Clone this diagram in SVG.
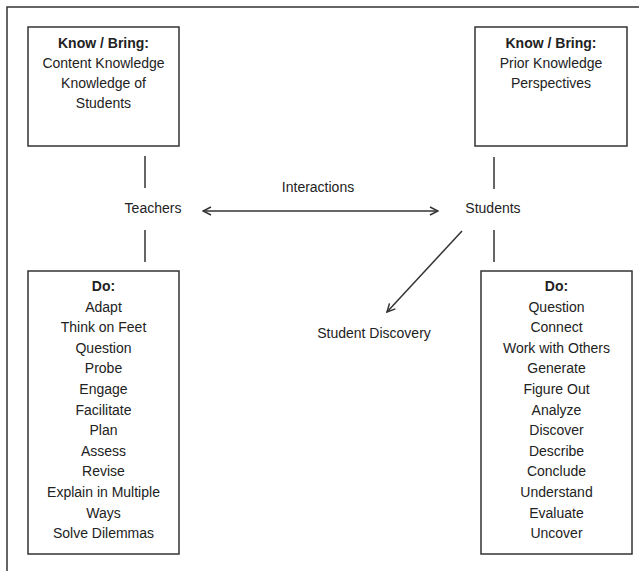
<svg xmlns="http://www.w3.org/2000/svg" width="639" height="571" viewBox="0 0 639 571">
<defs>
<style>
.box{fill:#fff;stroke:#333;stroke-width:1.5}
.ln{fill:none;stroke:#333;stroke-width:1.5}
text{font-family:"Liberation Sans",Arial,sans-serif;font-size:14px;fill:#222;text-anchor:middle}
.b{font-weight:bold}
</style>
<marker id="ah" viewBox="0 0 10 10" refX="9" refY="5" markerWidth="10" markerHeight="10" markerUnits="userSpaceOnUse" orient="auto-start-reverse">
<path d="M1,1 L9,5 L1,9" fill="none" stroke="#333" stroke-width="1.5"/>
</marker>
</defs>
<rect width="639" height="571" fill="#fff"/>
<path class="ln" d="M7,571 V7 H639"/>
<g id="teacher-know">
<rect class="box" x="28" y="27" width="151" height="119"/>
<text x="103.5" y="48" class="b">Know / Bring:</text>
<text x="103.5" y="68">Content Knowledge</text>
<text x="103.5" y="88">Knowledge of</text>
<text x="103.5" y="108">Students</text>
</g>
<g id="student-know">
<rect class="box" x="475" y="27" width="152" height="119"/>
<text x="551" y="48" class="b">Know / Bring:</text>
<text x="551" y="68">Prior Knowledge</text>
<text x="551" y="88">Perspectives</text>
</g>
<g id="teachers"><text x="153" y="213">Teachers</text></g>
<g id="students"><text x="493" y="213">Students</text></g>
<g id="interactions"><text x="318" y="192">Interactions</text></g>
<g id="discovery"><text x="374" y="338">Student Discovery</text></g>
<g id="teacher-do">
<rect class="box" x="28" y="271" width="151" height="283"/>
<text x="103.5" y="291" class="b">Do:</text>
<text x="103.5" y="311.6">Adapt</text>
<text x="103.5" y="332.2">Think on Feet</text>
<text x="103.5" y="352.8">Question</text>
<text x="103.5" y="373.4">Probe</text>
<text x="103.5" y="394">Engage</text>
<text x="103.5" y="414.6">Facilitate</text>
<text x="103.5" y="435.2">Plan</text>
<text x="103.5" y="455.8">Assess</text>
<text x="103.5" y="476.4">Revise</text>
<text x="103.5" y="497">Explain in Multiple</text>
<text x="103.5" y="517.6">Ways</text>
<text x="103.5" y="538.2">Solve Dilemmas</text>
</g>
<g id="student-do">
<rect class="box" x="481" y="271" width="151" height="283"/>
<text x="556.5" y="291" class="b">Do:</text>
<text x="556.5" y="311.6">Question</text>
<text x="556.5" y="332.2">Connect</text>
<text x="556.5" y="352.8">Work with Others</text>
<text x="556.5" y="373.4">Generate</text>
<text x="556.5" y="394">Figure Out</text>
<text x="556.5" y="414.6">Analyze</text>
<text x="556.5" y="435.2">Discover</text>
<text x="556.5" y="455.8">Describe</text>
<text x="556.5" y="476.4">Conclude</text>
<text x="556.5" y="497">Understand</text>
<text x="556.5" y="517.6">Evaluate</text>
<text x="556.5" y="538.2">Uncover</text>
</g>
<g id="connectors">
<line class="ln" x1="145" y1="156" x2="145" y2="188"/>
<line class="ln" x1="145" y1="230" x2="145" y2="262"/>
<line class="ln" x1="494" y1="157" x2="494" y2="189"/>
<line class="ln" x1="494" y1="230" x2="494" y2="262"/>
<line class="ln" x1="203" y1="211" x2="438" y2="211" marker-start="url(#ah)" marker-end="url(#ah)"/>
<line class="ln" x1="462" y1="231" x2="387" y2="312" marker-end="url(#ah)"/>
</g>
</svg>
